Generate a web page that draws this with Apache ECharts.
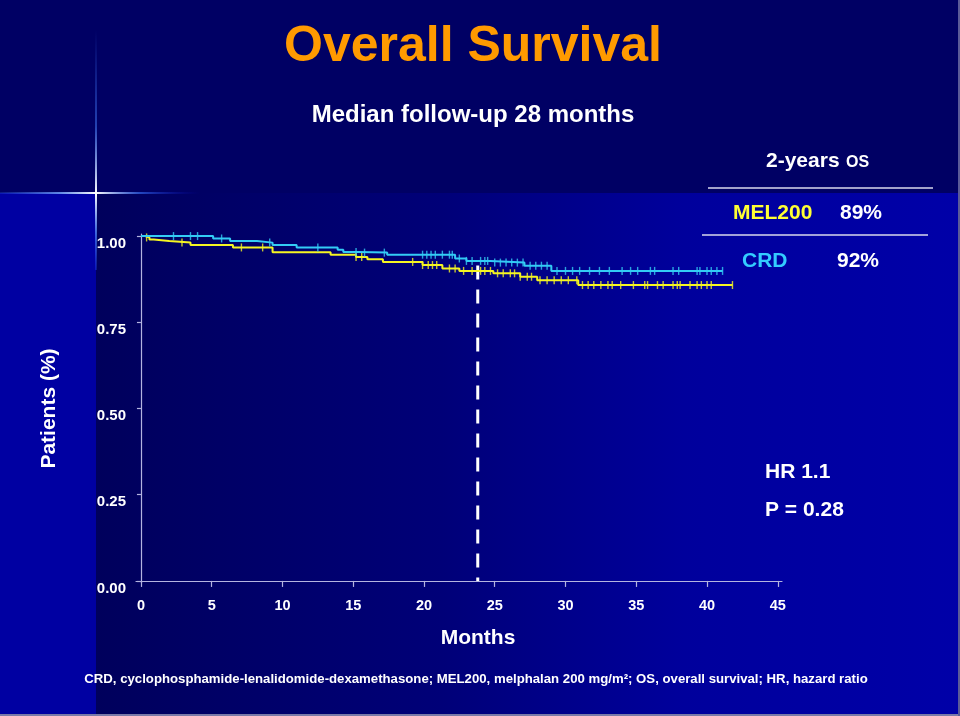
<!DOCTYPE html>
<html>
<head>
<meta charset="utf-8">
<script src="https://cdn.jsdelivr.net/npm/echarts@6/dist/echarts.min.js"></script>
<style>
html,body{margin:0;padding:0;background:#000064;}
#c{width:960px;height:716px;}
</style>
</head>
<body>
<div id="c"></div>
<script>
// ---- data ----
const xTicks = [0, 5, 10, 15, 20, 25, 30, 35, 40, 45];
const yTicks = [0, 0.25, 0.5, 0.75, 1];
// Kaplan-Meier steps: [month, survival after the drop]
const crdSteps = [[0,1.000],[5.1,0.993],[6.3,0.986],[8.2,0.981],[9.3,0.974],[11.0,0.967],[13.9,0.960],[14.3,0.954],[15.3,0.952],[17.4,0.946],[22.2,0.935],[23.0,0.928],[24.7,0.923],[27.1,0.914],[29.0,0.899],[41.1,0.899]];
const melSteps = [[0,1.000],[0.3,0.996],[0.6,0.990],[0.9,0.986],[2.0,0.981],[3.5,0.974],[6.5,0.967],[9.3,0.953],[13.4,0.946],[15.2,0.939],[16.0,0.933],[17.1,0.925],[19.9,0.916],[21.3,0.906],[22.5,0.899],[24.9,0.892],[26.8,0.882],[28.0,0.872],[30.9,0.858],[41.8,0.858]];
// censoring times (months)
const crdCensor = [2.3,3.5,4.0,5.7,9.1,12.5,15.2,15.8,17.2,19.9,20.2,20.5,20.8,21.3,21.8,22.0,22.5,23.0,23.4,24.0,24.3,24.5,25.0,25.4,25.8,26.2,26.6,27.0,27.5,27.9,28.3,28.7,29.4,30.0,30.5,31.0,31.7,32.4,33.1,34.0,34.6,35.1,36.0,36.3,37.6,38.0,39.3,39.5,40.0,40.3,40.7,41.1];
const melCensor = [0.4,2.9,7.1,8.6,15.2,15.6,19.2,19.9,20.3,20.6,20.9,21.8,22.2,22.8,23.4,24.0,24.3,24.7,25.2,25.6,26.1,26.4,26.8,27.3,27.6,28.2,28.7,29.2,29.7,30.2,30.8,31.2,31.6,32.0,32.5,33.0,33.3,33.9,34.8,35.6,35.8,36.5,36.9,37.6,37.9,38.1,38.8,39.3,39.6,40.0,40.3,41.8];
const landmarkMonth = 23.8;
const landmarkTop = 0.915;

const CYAN = '#33ccf5', YELLOW = '#f5f522';
const FONT = '"Liberation Sans", Arial, sans-serif';

function survAt(steps, t){
  let v = steps[0][1];
  for (const s of steps){ if (s[0] <= t + 1e-9) v = s[1]; }
  return v;
}
const crdMarks = crdCensor.map(t => [t, survAt(crdSteps, t)]);
const melMarks = melCensor.map(t => [t, survAt(melSteps, t)]);

const chart = echarts.init(document.getElementById('c'), null, {renderer:'canvas'});

function txt(x, y, text, size, color, align, vAlign){
  return {
    type:'text', x:x, y:y, z:20,
    style:{text:text, fill:color, font:'bold '+size+'px '+FONT, textAlign:align||'left', textVerticalAlign:vAlign||'middle'}
  };
}

const option = {
  backgroundColor:'#000064',
  animation:false,
  grid:{left:136, top:234, width:646, height:349, containLabel:false},
  xAxis:{
    type:'value', min:-0.35, max:45.3,
    axisLine:{show:true, lineStyle:{color:'#b4b4e0', width:1.2}},
    axisTick:{show:true, length:6, customValues:xTicks, lineStyle:{color:'#b4b4e0', width:1.2}},
    axisLabel:{customValues:xTicks, color:'#ffffff', fontWeight:'bold', fontSize:14.5, fontFamily:FONT, margin:15},
    splitLine:{show:false}
  },
  yAxis:{
    type:'value', min:-0.006, max:1.006,
    name:'Patients (%)', nameLocation:'middle', nameGap:76, nameRotate:90,
    nameTextStyle:{color:'#ffffff', fontWeight:'bold', fontSize:21, fontFamily:FONT},
    axisLine:{show:true, lineStyle:{color:'#b4b4e0', width:1.2}},
    axisTick:{show:true, length:4, customValues:yTicks, lineStyle:{color:'#b4b4e0', width:1.2}},
    axisLabel:{customValues:yTicks, color:'#ffffff', fontWeight:'bold', fontSize:15, fontFamily:FONT, margin:10,
      verticalAlign:'top', formatter:v => v.toFixed(2)},
    splitLine:{show:false}
  },
  series:[
    {type:'line', name:'landmark', data:[[landmarkMonth, landmarkTop],[landmarkMonth, 0]], symbol:'none', z:1,
      lineStyle:{color:'#ffffff', width:3, type:[14,10]}, silent:true},
    {type:'line', name:'MEL200', step:'end', data:melSteps, symbol:'none', z:3,
      lineStyle:{color:YELLOW, width:2}},
    {type:'line', name:'CRD', step:'end', data:crdSteps, symbol:'none', z:4,
      lineStyle:{color:CYAN, width:2}},
    {type:'scatter', name:'MEL200 censored', data:melMarks, symbol:'rect', symbolSize:[1.4,8], z:3,
      itemStyle:{color:YELLOW}},
    {type:'scatter', name:'CRD censored', data:crdMarks, symbol:'rect', symbolSize:[1.4,8], z:4,
      itemStyle:{color:CYAN}}
  ],
  graphic:[
    // background panels
    {type:'rect', z:-20, shape:{x:0,y:0,width:960,height:193}, style:{fill:'#000064'}},
    {type:'rect', z:-20, shape:{x:96,y:193,width:864,height:523}, style:{fill:{type:'linear',x:0,y:0,x2:1,y2:0,colorStops:[
      {offset:0,color:'#00005c'},{offset:0.4,color:'#000078'},{offset:0.68,color:'#00009c'},{offset:1,color:'#0000a8'}]}}},
    {type:'rect', z:-20, shape:{x:0,y:193,width:96,height:523}, style:{fill:'#0000a2'}},
    // lens flare
    {type:'rect', z:-19, shape:{x:0,y:192,width:200,height:2}, style:{fill:{type:'linear',x:0,y:0,x2:1,y2:0,colorStops:[
      {offset:0,color:'rgba(60,120,255,0.2)'},{offset:0.3,color:'rgba(120,170,255,0.8)'},{offset:0.48,color:'rgba(255,255,255,1)'},{offset:0.7,color:'rgba(60,120,255,0.6)'},{offset:1,color:'rgba(0,0,200,0)'}]}}},
    {type:'rect', z:-19, shape:{x:95,y:30,width:2,height:240}, style:{fill:{type:'linear',x:0,y:0,x2:0,y2:1,colorStops:[
      {offset:0,color:'rgba(60,120,255,0)'},{offset:0.4,color:'rgba(70,130,255,0.5)'},{offset:0.68,color:'rgba(255,255,255,1)'},{offset:0.85,color:'rgba(80,140,255,0.7)'},{offset:1,color:'rgba(40,80,255,0.3)'}]}}},
    // frame edges
    {type:'rect', z:-18, shape:{x:0,y:714,width:960,height:2}, style:{fill:'#7a7aa8'}},
    {type:'rect', z:-18, shape:{x:958,y:0,width:2,height:716}, style:{fill:'#5a5a98'}},
    // titles
    txt(473, 47, 'Overall Survival', 50, '#ff9a00', 'center'),
    txt(473, 115, 'Median follow-up 28 months', 24, '#ffffff', 'center'),
    // table
    txt(766, 172, '2-years', 21, '#ffffff', 'left', 'bottom'),
    txt(846, 171, 'OS', 16, '#ffffff', 'left', 'bottom'),
    {type:'line', z:20, shape:{x1:708,y1:188,x2:933,y2:188}, style:{stroke:'#d8d8ec', lineWidth:1.5}},
    txt(733, 213, 'MEL200', 21, '#ffff33', 'left'),
    txt(840, 213, '89%', 21, '#ffffff', 'left'),
    {type:'line', z:20, shape:{x1:702,y1:235,x2:928,y2:235}, style:{stroke:'#d8d8ec', lineWidth:1.5}},
    txt(742, 261, 'CRD', 21, '#33ccff', 'left'),
    txt(837, 261, '92%', 21, '#ffffff', 'left'),
    // stats
    txt(765, 472, 'HR 1.1', 21, '#ffffff', 'left'),
    txt(765, 510, 'P = 0.28', 21, '#ffffff', 'left'),
    // x axis title
    txt(478, 638, 'Months', 21, '#ffffff', 'center'),
    // footnote
    txt(476, 679, 'CRD, cyclophosphamide-lenalidomide-dexamethasone; MEL200, melphalan 200 mg/m\u00b2; OS, overall survival; HR, hazard ratio', 13.2, '#ffffff', 'center')
  ]
};
chart.setOption(option);
</script>
</body>
</html>
